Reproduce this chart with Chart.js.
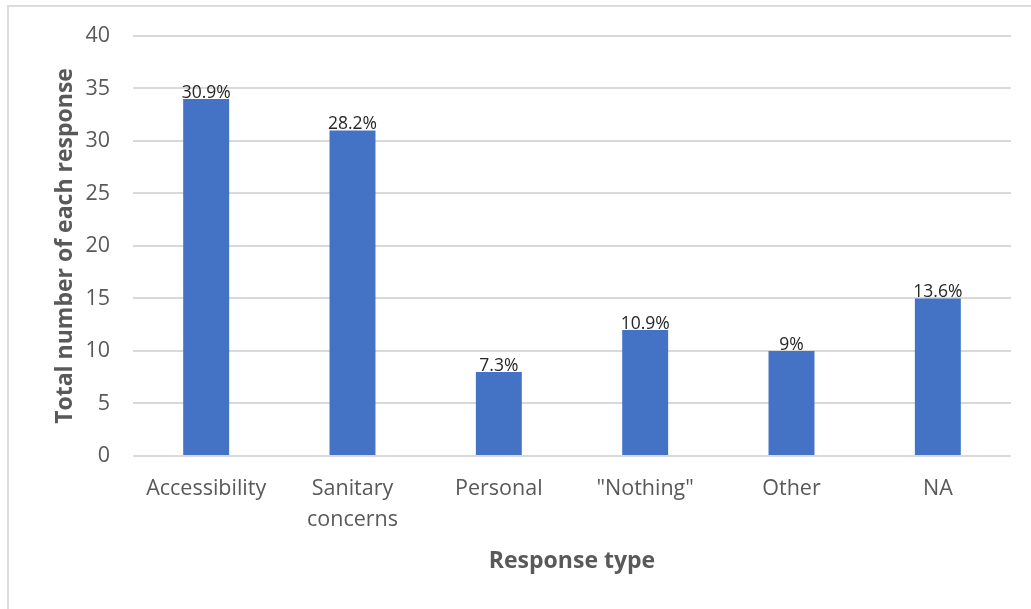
<!DOCTYPE html>
<html>
<head>
<meta charset="utf-8">
<script src="https://cdn.jsdelivr.net/npm/chart.js@4/dist/chart.umd.min.js"></script>
<style>
  html, body { margin: 0; padding: 0; background: #ffffff; }
  #wrap { position: relative; width: 1031px; height: 609px; overflow: hidden; }
  #frame { position: absolute; left: 7px; top: 5px; width: 1040px; height: 620px;
           border-left: 2px solid #dcdcdc; border-top: 2px solid #dcdcdc; box-sizing: border-box; }
  canvas { position: absolute; left: 0; top: 0; }
</style>
</head>
<body>
<div id="wrap">
  <div id="frame"></div>
  <canvas id="c" width="1031" height="609"></canvas>
</div>
<script>
// Response categories and counts
const categories = ["Accessibility", ["Sanitary", "concerns"], "Personal", "\"Nothing\"", "Other", "NA"];
const counts = [34, 31, 8, 12, 10, 15];
const shareLabels = ["30.9%", "28.2%", "7.3%", "10.9%", "9%", "13.6%"];
const yTicks = [0, 5, 10, 15, 20, 25, 30, 35, 40];

const FONT = "'Open Sans', 'Noto Sans', sans-serif";
const GREY = "#595959";

// Writes the share label just above each bar
const barLabels = {
  id: "barLabels",
  afterDatasetsDraw(chart) {
    const ctx = chart.ctx;
    const meta = chart.getDatasetMeta(0);
    ctx.save();
    ctx.font = "17.5px " + FONT;
    ctx.fillStyle = "#262626";
    ctx.textAlign = "center";
    ctx.textBaseline = "alphabetic";
    meta.data.forEach((bar, i) => {
      ctx.fillText(shareLabels[i], bar.x, bar.y - 1);
    });
    ctx.restore();
  }
};

new Chart(document.getElementById("c"), {
  type: "bar",
  data: {
    labels: categories,
    datasets: [{
      data: counts,
      backgroundColor: "#4472C4",
      borderWidth: 0,
      barPercentage: 0.314,
      categoryPercentage: 1.0
    }]
  },
  options: {
    responsive: false,
    animation: false,
    layout: { padding: { top: 35, right: 20, left: 0, bottom: 0 } },
    plugins: { legend: { display: false }, tooltip: { enabled: false } },
    scales: {
      x: {
        grid: { display: false, drawTicks: false },
        border: { display: false },
        ticks: {
          color: GREY,
          font: { family: FONT, size: 21.5, lineHeight: 1.45 },
          padding: 17,
          maxRotation: 0,
          autoSkip: false
        },
        title: {
          display: true,
          text: "Response type",
          color: GREY,
          font: { family: FONT, size: 23, weight: "bold", lineHeight: 1.2 },
          padding: { top: 0, bottom: 34 }
        },
        afterFit(scale) { scale.height = 153; }
      },
      y: {
        min: 0,
        max: 40,
        afterBuildTicks(scale) { scale.ticks = yTicks.map(v => ({ value: v })); },
        grid: { color: "#d9d9d9", lineWidth: 2, drawTicks: false },
        border: { display: false },
        ticks: {
          color: GREY,
          font: { family: FONT, size: 21.5 },
          padding: 23
        },
        title: {
          display: true,
          text: "Total number of each response",
          color: GREY,
          font: { family: FONT, size: 23, weight: "bold", lineHeight: 1.2 },
          padding: { top: 52, bottom: 0 }
        },
        afterFit(scale) { scale.width = 133; }
      }
    }
  },
  plugins: [barLabels]
});
</script>
</body>
</html>
